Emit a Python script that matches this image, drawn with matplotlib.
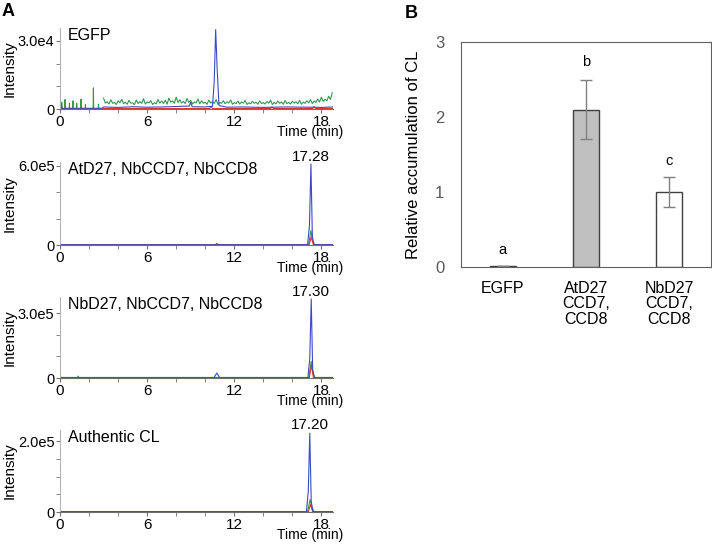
import numpy as np
import matplotlib
matplotlib.use('Agg')
import matplotlib.pyplot as plt
from matplotlib.ticker import MultipleLocator

plt.rcParams['font.family'] = ['Liberation Sans', 'DejaVu Sans']

BLUE = '#3b4cc0'
GREEN = '#2f9a4c'
RED = '#e2342c'

# ---------------- panel A data ----------------
panel_titles = ['EGFP', 'AtD27, NbCCD7, NbCCD8', 'NbD27, NbCCD7, NbCCD8', 'Authentic CL']
peak_labels = [None, '17.28', '17.30', '17.20']
peak_times = [None, 17.28, 17.30, 17.20]
y_tops = [3.57e4, 6.3e5, 3.74e5, 2.31e5]
y_ticklabels = ['3.0e4', '6.0e5', '3.0e5', '2.0e5']
y_labelvals = [3.0e4, 6.0e5, 3.0e5, 2.0e5]
y_minor = [1.0e4, 2.0e5, 1.0e5, 0.5e5]

# EGFP
egfp_green_early_t = [0.0, 0.1, 0.12, 0.14, 0.33, 0.35, 0.37, 0.63, 0.65, 0.67, 0.88, 0.9, 0.92,
                      1.13, 1.15, 1.17, 1.43, 1.45, 1.47, 1.73, 1.75, 1.77, 2.28, 2.3, 2.32,
                      2.63, 2.65, 2.67, 2.95]
egfp_green_early_v = [0, 0, 3000, 0, 0, 4200, 0, 0, 2600, 0, 0, 3600, 0,
                      0, 2500, 0, 0, 4300, 0, 0, 1900, 0, 0, 9300, 0,
                      0, 2100, 0, 0]
egfp_green_late_v = [4800, 3200, 4100, 2900, 3600, 4300, 3000, 3800, 2700, 4000,
                     3300, 4500, 3100, 3700, 2800, 4200, 3500, 3900, 4800, 3600,
                     5200, 4100, 3400, 4600, 3800, 3100, 4400, 3600, 3000, 3900,
                     3300, 4200, 2900, 3700, 3200, 4000, 2800, 3500, 3100, 3800,
                     2700, 3400, 3000, 3600, 2800, 3300, 3900, 2900, 3500, 3100,
                     3700, 2900, 3400, 3200, 3800, 3000, 3600, 4100, 3500, 4400,
                     5200, 4300, 5600, 7200]
egfp_green_mid_v = [2600, 2200, 2500, 2000, 2700, 2300, 2100, 2600, 1900, 2400,
                    2500, 2200, 2700, 2000, 2300, 2600, 2400, 2100, 3000, 2500,
                    2800, 2600, 2400, 2900, 2200, 2700, 2300, 2500, 2100, 2600,
                    2400, 2000, 2500, 2300, 2700, 2100, 2400, 2200, 2600, 2000,
                    2300, 2500, 2100, 2400, 2200, 2600, 2000, 2300, 2500, 2100,
                    2400, 2200, 2600, 2300, 2100, 2500, 2700, 2400, 2900, 3100,
                    3300, 3600, 4200]
late_t = np.linspace(3.0, 18.75, len(egfp_green_late_v))
mid_t = late_t[:-1] + 0.125
egfp_green_t = np.concatenate([late_t, mid_t])
egfp_green_v = np.concatenate([egfp_green_late_v, egfp_green_mid_v])
order = np.argsort(egfp_green_t)
egfp_green_t, egfp_green_v = egfp_green_t[order], egfp_green_v[order]

egfp_blue_t = [0, 0.08, 0.15, 2.9, 3.0, 4.0, 5.0, 6.0, 7.0, 8.0, 8.9, 9.0, 9.1,
               10.0, 10.5, 10.62, 10.72, 10.82, 10.95, 11.5, 12.5, 14.0, 15.5, 17.0, 18.0, 18.8]
egfp_blue_v = [1500, 1800, 300, 300, 900, 700, 1000, 800, 900, 1100, 1300, 3000, 1000,
               900, 1200, 12000, 35000, 18000, 1500, 800, 900, 700, 900, 800, 700, 900]
egfp_red_t = [0, 10.3, 10.4, 10.5, 14.5, 14.6, 14.7, 17.4, 17.5, 17.6, 18.8]
egfp_red_v = [200, 200, 1200, 200, 200, 900, 200, 200, 1100, 200, 200]

# AtD27, NbCCD7, NbCCD8
at_blue_t = [0, 0.05, 10.7, 10.8, 10.9, 17.05, 17.18, 17.28, 17.38, 17.5, 18.8]
at_blue_v = [40000, 2000, 2000, 12000, 2000, 2000, 150000, 615000, 60000, 2000, 2000]
at_green_t = [0, 17.12, 17.28, 17.4, 17.52, 18.8]
at_green_v = [3000, 3000, 110000, 30000, 3000, 3000]
at_red_t = [0, 17.15, 17.3, 17.45, 18.8]
at_red_v = [1000, 1000, 60000, 1000, 1000]

# NbD27, NbCCD7, NbCCD8
nb_blue_t = [0, 0.05, 10.6, 10.8, 11.0, 17.07, 17.2, 17.3, 17.4, 17.52, 18.8]
nb_blue_v = [23000, 1500, 1500, 23000, 1500, 1500, 90000, 365000, 40000, 1500, 1500]
nb_green_t = [0, 1.2, 1.25, 1.3, 17.14, 17.3, 17.42, 17.55, 18.8]
nb_green_v = [2500, 2500, 9000, 2500, 2500, 77000, 20000, 2500, 2500]
nb_red_t = [0, 17.17, 17.32, 17.45, 18.8]
nb_red_v = [800, 800, 60000, 800, 800]

# Authentic CL
cl_blue_t = [0, 0.05, 16.97, 17.1, 17.2, 17.3, 17.42, 18.8]
cl_blue_v = [17000, 800, 800, 60000, 222000, 30000, 800, 800]
cl_green_t = [0, 17.05, 17.22, 17.35, 17.5, 18.8]
cl_green_v = [1000, 1000, 35000, 12000, 1000, 1000]
cl_red_t = [0, 17.1, 17.25, 17.4, 18.8]
cl_red_v = [500, 500, 21000, 500, 500]

traces = [
    [(egfp_green_early_t, egfp_green_early_v, GREEN), (egfp_green_t, egfp_green_v, GREEN),
     (egfp_red_t, egfp_red_v, RED), (egfp_blue_t, egfp_blue_v, BLUE)],
    [(at_green_t, at_green_v, GREEN), (at_red_t, at_red_v, RED), (at_blue_t, at_blue_v, BLUE)],
    [(nb_green_t, nb_green_v, GREEN), (nb_red_t, nb_red_v, RED), (nb_blue_t, nb_blue_v, BLUE)],
    [(cl_green_t, cl_green_v, GREEN), (cl_red_t, cl_red_v, RED), (cl_blue_t, cl_blue_v, BLUE)],
]

# ---------------- panel B data ----------------
groups = ['EGFP', 'AtD27\nCCD7,\nCCD8', 'NbD27\nCCD7,\nCCD8']
rel_acc = [0.01, 2.1, 1.0]
rel_err = [0.0, 0.4, 0.2]
bar_colors = ['white', '#c0c0c0', 'white']
sig_letters = ['a', 'b', 'c']
letter_y = [0.23, 2.73, 1.41]

fig = plt.figure(figsize=(7.12, 5.44), dpi=100)

# axes boxes in pixels: (top, bottom)
W, H = 712, 544
a_boxes = [(28, 109), (162, 245), (297, 378), (430, 512)]
a_left, a_right = 60, 333

for i, (top, bot) in enumerate(a_boxes):
    ax = fig.add_axes([a_left / W, 1 - bot / H, (a_right - a_left) / W, (bot - top) / H])
    for t, v, c in traces[i]:
        ax.plot(t, v, color=c, lw=0.8)
    ax.set_xlim(0, 18.8)
    ax.set_ylim(0, y_tops[i])
    ax.set_xticks([0, 6, 12, 18])
    ax.xaxis.set_minor_locator(MultipleLocator(2))
    ax.set_yticks([0, y_labelvals[i]])
    ax.set_yticklabels(['0', y_ticklabels[i]])
    ax.yaxis.set_minor_locator(MultipleLocator(y_minor[i]))
    ax.spines['top'].set_visible(False)
    ax.spines['right'].set_visible(False)
    ax.spines['left'].set_color('#b5b5b5')
    ax.spines['bottom'].set_color('#707070')
    ax.tick_params(which='both', length=3, color='#707070', pad=1)
    ax.tick_params(axis='x', labelsize=11)
    ax.tick_params(axis='y', labelsize=10.5)
    ax.set_ylabel('Intensity', fontsize=11, labelpad=1)
    ax.text(0.03, 1.0, panel_titles[i], transform=ax.transAxes, ha='left', va='top', fontsize=11.5)
    ax.annotate('Time (min)', xy=(1, 0), xycoords='axes fraction', xytext=(10, -16),
                textcoords='offset pixels', ha='right', va='top', fontsize=10)
    if peak_labels[i]:
        ax.text(peak_times[i], y_tops[i] * 0.98, peak_labels[i], ha='center', va='bottom',
                fontsize=11, clip_on=False)

fig.text(2 / W, 1 - 3 / H, 'A', fontsize=13, fontweight='bold', ha='left', va='top')
fig.text(405 / W, 1 - 5 / H, 'B', fontsize=13, fontweight='bold', ha='left', va='top')

# ---------------- panel B ----------------
axb = fig.add_axes([461 / W, 1 - 267 / H, 250 / W, 225 / H])
x = np.arange(len(groups))
axb.bar(x, rel_acc, width=0.31, color=bar_colors, edgecolor='#404040', linewidth=1.0,
        yerr=rel_err, error_kw=dict(ecolor='#808080', elinewidth=1.0, capsize=4, capthick=1.0))
for xi, lt, ly in zip(x, sig_letters, letter_y):
    axb.text(xi, ly, lt, ha='center', va='center', fontsize=10.5)
axb.set_xlim(-0.5, 2.5)
axb.set_ylim(0, 3)
axb.set_yticks([0, 1, 2, 3])
axb.set_xticks(x)
axb.set_xticklabels(groups, fontsize=11.5, linespacing=1.05)
axb.tick_params(axis='y', length=0, pad=12, labelsize=12, labelcolor='#595959')
axb.tick_params(axis='x', length=0, pad=10)
for s in axb.spines.values():
    s.set_color('#606060')
axb.set_ylabel('Relative accumulation of CL', fontsize=12, labelpad=10)

fig.savefig('out.png', dpi=100)
